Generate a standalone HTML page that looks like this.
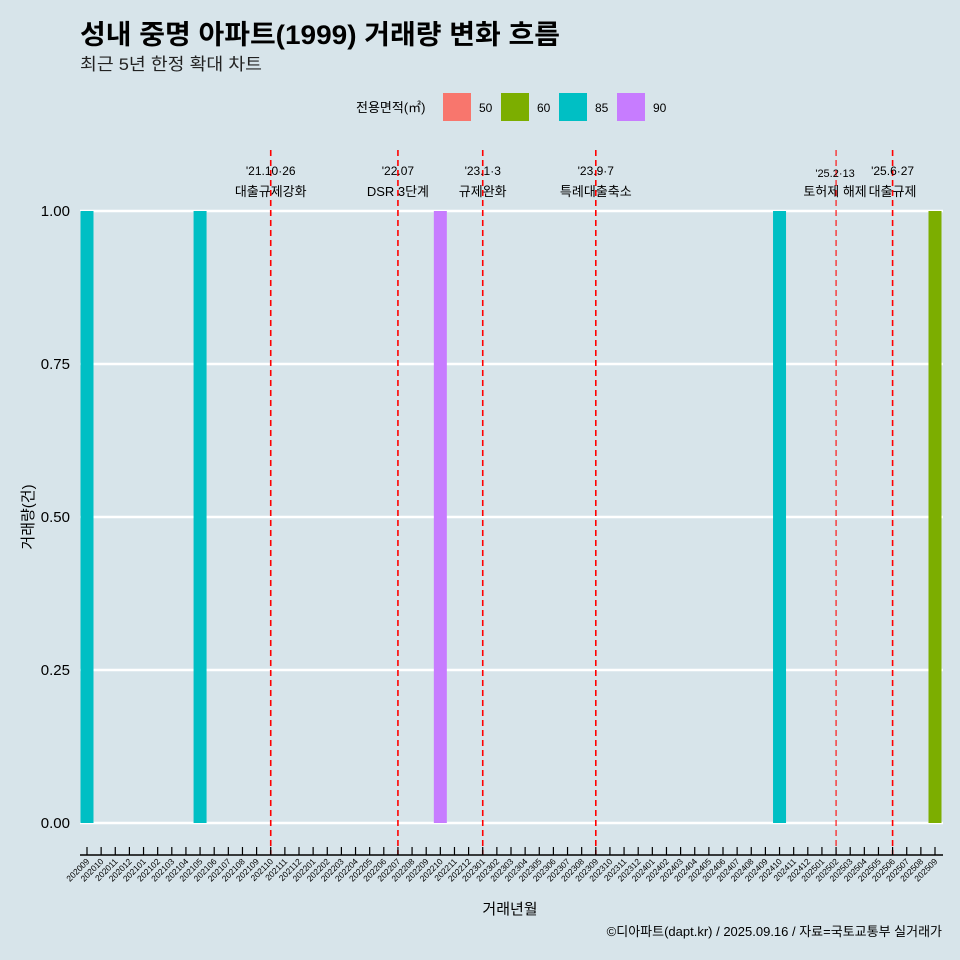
<!DOCTYPE html>
<html><head><meta charset="utf-8">
<style>
body{margin:0;background:#d7e4ea;font-family:"Liberation Sans","Noto Sans CJK KR",sans-serif;}
svg{display:block}
</style></head>
<body>
<svg id="chart" width="960" height="960">
<rect width="960" height="960" fill="#d7e4ea"/>
<text x="80" y="44" font-size="27" font-weight="bold" fill="#000" textLength="480" lengthAdjust="spacingAndGlyphs" font-family="Liberation Sans,Noto Sans CJK KR,sans-serif">성내 중명 아파트(1999) 거래량 변화 흐름</text>
<text x="80" y="70" font-size="17" fill="#222" textLength="182" lengthAdjust="spacingAndGlyphs" font-family="Liberation Sans,Noto Sans CJK KR,sans-serif">최근 5년 한정 확대 차트</text>
<g id="legend" font-family="Liberation Sans,Noto Sans CJK KR,sans-serif">
<text x="356" y="112" font-size="13">전용면적(㎡)</text>
</g>
<g id="grid"></g><g id="marks"></g><g id="axes"></g>
<text x="510" y="914" font-size="15" text-anchor="middle" font-family="Liberation Sans,Noto Sans CJK KR,sans-serif">거래년월</text>
<text transform="translate(33,517) rotate(-90)" font-size="15" text-anchor="middle" font-family="Liberation Sans,Noto Sans CJK KR,sans-serif">거래량(건)</text>
<text x="942" y="936" font-size="13" text-anchor="end" font-family="Liberation Sans,Noto Sans CJK KR,sans-serif">©디아파트(dapt.kr) / 2025.09.16 / 자료=국토교통부 실거래가</text>
</svg>
<script>
const months=[];for(let y=2020,m=9;!(y===2025&&m===10);){months.push(''+y+(m<10?'0':'')+m);m++;if(m>12){m=1;y++;}}
const barMonths=['202009','202105','202210','202410','202509'];
const barValues=[1,1,1,1,1];
const barSizes=['85','85','90','85','60'];
const sizeCats=['50','60','85','90'];
const sizeColors={'50':'#f8766d','60':'#7cae00','85':'#00bfc4','90':'#c77cff'};
const eventMonths=['202110','202207','202301','202309','202502','202506'];
const eventDates=["'21.10·26","'22.07","'23.1·3","'23.9·7","'25.2·13","'25.6·27"];
const eventLabels=['대출규제강화','DSR 3단계','규제완화','특례대출축소','토허제 해제','대출규제'];
const yTicks=[0,0.25,0.5,0.75,1];
const NS='http://www.w3.org/2000/svg';
const F='Liberation Sans,Noto Sans CJK KR,sans-serif';
function mk(t,a,p){const e=document.createElementNS(NS,t);for(const k in a)e.setAttribute(k,a[k]);p.appendChild(e);return e;}
const x=m=>87+months.indexOf(m)*(935-87)/(months.length-1);
const y=v=>823-v*(823-211);
const grid=document.getElementById('grid'),marks=document.getElementById('marks'),axes=document.getElementById('axes'),leg=document.getElementById('legend');
yTicks.forEach(t=>{
 const l=mk('line',{x1:80,x2:943,y1:y(t),y2:y(t),stroke:'#fff','stroke-width':2.6},grid);
 
 
 const tx=mk('text',{x:70,y:y(t)+5,'font-size':15,'text-anchor':'end','font-family':F},axes);tx.textContent=t.toFixed(2);
 
 
});
barMonths.forEach((m,i)=>{
 const r=mk('rect',{x:x(m)-6.5,y:y(barValues[i]),width:13,height:y(0)-y(barValues[i]),fill:sizeColors[barSizes[i]]},marks);
 
 
});
eventMonths.forEach((m,i)=>{
 const thin=i===4;
 const l=mk('line',{x1:x(m),x2:x(m),y1:150,y2:855,stroke:'#f00','stroke-width':thin?1.1:1.6,'stroke-dasharray':'6,4'},marks);
 
 
 const fs=thin?11:12;
 const t1=mk('text',{x:x(m)+(i===4?-1:0),y:thin?177:175,'font-size':fs,'text-anchor':'middle','font-family':F},marks);t1.textContent=eventDates[i];
 
 
 const t2=mk('text',{x:x(m)+(i===4?-1:0),y:196,'font-size':13,'text-anchor':'middle','font-family':F},marks);t2.textContent=eventLabels[i];
 
 
});
const al=mk('line',{x1:80,x2:943,y1:855,y2:855,stroke:'#000','stroke-width':1.5},axes);


months.forEach(m=>{
 mk('line',{x1:x(m),x2:x(m),y1:847,y2:855,stroke:'#000','stroke-width':1.2},axes);
 const t=mk('text',{transform:`translate(${x(m)+3},${862}) rotate(-45)`,'font-size':8.5,'text-anchor':'end','font-family':F},axes);t.textContent=m;
 
 
});
sizeCats.forEach((c,i)=>{
 const x0=443+i*58;
 const r=mk('rect',{x:x0,y:93,width:28,height:28,fill:sizeColors[c]},leg);
 
 
 const t=mk('text',{x:x0+36,y:112,'font-size':12,'font-family':F},leg);t.textContent=c;
 
 
});
</script>
</body></html>
